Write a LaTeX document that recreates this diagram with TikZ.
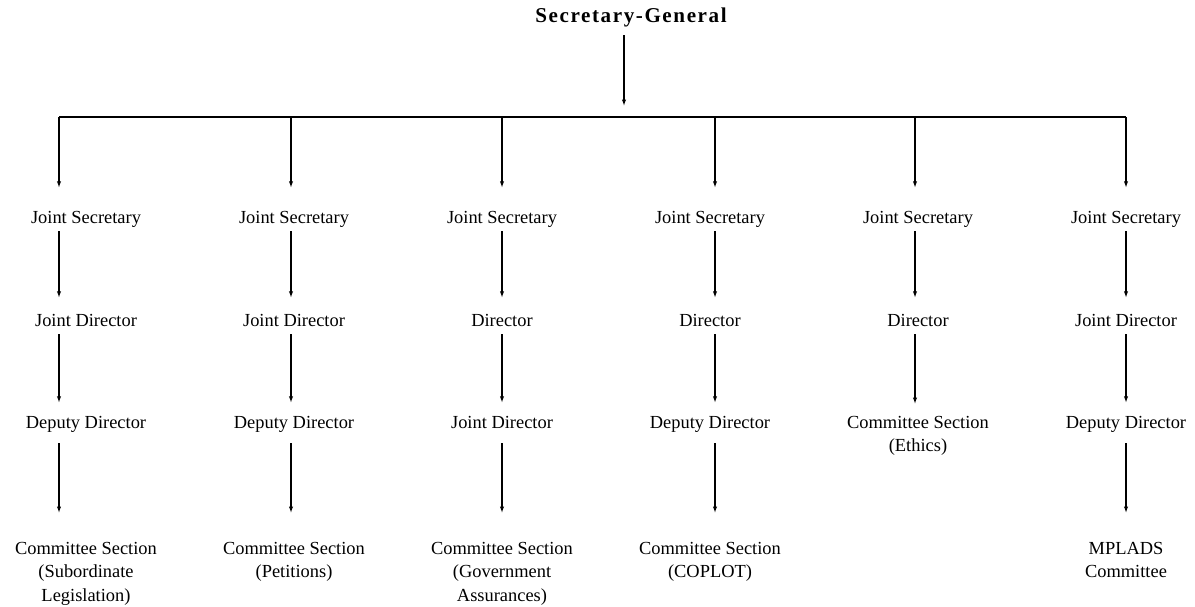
\documentclass[tikz,border=0pt]{standalone}
\usepackage{fontspec}
\setmainfont{Liberation Serif}
\usetikzlibrary{arrows.meta,positioning}

\begin{document}
\begin{tikzpicture}[x=0.025cm, y=-0.025cm,
    post/.style={font=\fontsize{13.1}{16.7}\selectfont, inner xsep=2pt, inner ysep=2.5pt, text height=9pt, text depth=3pt},
    unit/.style={font=\fontsize{13.1}{16.7}\selectfont, align=center, anchor=north, inner sep=0pt},
    head/.style={font=\fontsize{15}{18}\selectfont\bfseries\addfontfeature{LetterSpace=7.5}, inner ysep=5pt, text height=11pt, text depth=3.5pt},
    link/.style={-{Latex[length=4.5pt,width=3pt]}, line width=0.8pt},
    lvlA/.style={link, shorten >=0.475cm},
    lvlB/.style={link, shorten >=0.3cm},
    lvlC/.style={link, shorten >=0.225cm},
    lvlD/.style={link, shorten <=0.175cm, shorten >=0.725cm},
  ]
    \useasboundingbox (0,0) rectangle (1195,606);
    % head of the chart
    \node[head] (sg) at (631,17.7) {Secretary-General};
    % bar under the head; drops at each wing
    \coordinate (hub) at (624,117);
    \coordinate (c1) at (59,117);
    \coordinate (c2) at (291,117);
    \coordinate (c3) at (502,117);
    \coordinate (c4) at (715,117);
    \coordinate (c5) at (915,117);
    \coordinate (c6) at (1126,117);
    \draw[link, shorten >=0.275cm] (sg.south -| hub) -- (hub);
    \draw[line width=0.8pt] (c1) -- (c6);
    % first level: joint secretaries
    \node[post] (js1) at (86,219) {Joint Secretary};
    \node[post] (js2) at (294,219) {Joint Secretary};
    \node[post] (js3) at (502,219) {Joint Secretary};
    \node[post] (js4) at (710,219) {Joint Secretary};
    \node[post] (js5) at (918,219) {Joint Secretary};
    \node[post] (js6) at (1126,219) {Joint Secretary};
    % second level
    \node[post] (jd1) at (86,322) {Joint Director};
    \node[post] (jd2) at (294,322) {Joint Director};
    \node[post] (dr3) at (502,322) {Director};
    \node[post] (dr4) at (710,322) {Director};
    \node[post] (dr5) at (918,322) {Director};
    \node[post] (jd6) at (1126,322) {Joint Director};
    % third level
    \node[post] (dd1) at (86,424) {Deputy Director};
    \node[post] (dd2) at (294,424) {Deputy Director};
    \node[post] (jd3) at (502,424) {Joint Director};
    \node[post] (dd4) at (710,424) {Deputy Director};
    \node[unit] (cs5) at (918,416) {Committee Section\\(Ethics)};
    \node[post] (dd6) at (1126,424) {Deputy Director};
    % sections at the foot
    \node[unit] (cs1) at (86,542) {Committee Section\\(Subordinate\\Legislation)};
    \node[unit] (cs2) at (294,542) {Committee Section\\(Petitions)};
    \node[unit] (cs3) at (502,542) {Committee Section\\(Government\\Assurances)};
    \node[unit] (cs4) at (710,542) {Committee Section\\(COPLOT)};
    \node[unit] (cs6) at (1126,542) {MPLADS\\Committee};
    % bar -> joint secretaries
    \draw[lvlA] (c1) -- (c1 |- js1.north);
    \draw[lvlA] (c2) -- (c2 |- js2.north);
    \draw[lvlA] (c3) -- (c3 |- js3.north);
    \draw[lvlA] (c4) -- (c4 |- js4.north);
    \draw[lvlA] (c5) -- (c5 |- js5.north);
    \draw[lvlA] (c6) -- (c6 |- js6.north);
    % joint secretaries -> second level
    \draw[lvlB] (c1 |- js1.south) -- (c1 |- jd1.north);
    \draw[lvlB] (c2 |- js2.south) -- (c2 |- jd2.north);
    \draw[lvlB] (c3 |- js3.south) -- (c3 |- dr3.north);
    \draw[lvlB] (c4 |- js4.south) -- (c4 |- dr4.north);
    \draw[lvlB] (c5 |- js5.south) -- (c5 |- dr5.north);
    \draw[lvlB] (c6 |- js6.south) -- (c6 |- jd6.north);
    % second level -> third level
    \draw[lvlC] (c1 |- jd1.south) -- (c1 |- dd1.north);
    \draw[lvlC] (c2 |- jd2.south) -- (c2 |- dd2.north);
    \draw[lvlC] (c3 |- dr3.south) -- (c3 |- jd3.north);
    \draw[lvlC] (c4 |- dr4.south) -- (c4 |- dd4.north);
    \draw[lvlB] (c5 |- dr5.south) -- (c5 |- cs5.north);
    \draw[lvlC] (c6 |- jd6.south) -- (c6 |- dd6.north);
    % third level -> sections
    \draw[lvlD] (c1 |- dd1.south) -- (c1 |- cs1.north);
    \draw[lvlD] (c2 |- dd2.south) -- (c2 |- cs2.north);
    \draw[lvlD] (c3 |- jd3.south) -- (c3 |- cs3.north);
    \draw[lvlD] (c4 |- dd4.south) -- (c4 |- cs4.north);
    \draw[lvlD] (c6 |- dd6.south) -- (c6 |- cs6.north);
  \end{tikzpicture}
\end{document}
